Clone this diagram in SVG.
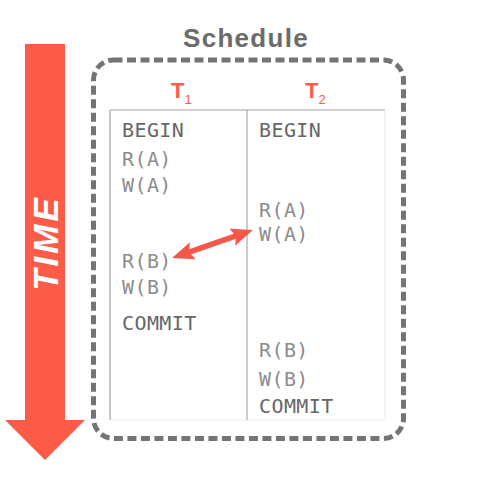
<svg xmlns="http://www.w3.org/2000/svg" width="486" height="478" viewBox="0 0 486 478">
<style>
.mono{font-family:"DejaVu Sans Mono","Liberation Mono",monospace;font-size:20px;letter-spacing:0.4px}
.kw{fill:#666666}
.op{fill:#8c8c8c}
.tx{font-family:"Liberation Sans",Arial,sans-serif;fill:#ff5a4a;font-size:22px;font-weight:bold}
.sub{font-size:13px;font-weight:normal}
.grid{stroke:#a8a8a8;stroke-width:1.2;fill:none}
</style>
<defs>
<marker id="head" viewBox="0 0 22 18" refX="7" refY="9" markerWidth="22" markerHeight="18" markerUnits="userSpaceOnUse" orient="auto-start-reverse">
<path d="M0,0 L22,9 L0,18 L4,9 z" fill="#f5574a"/>
</marker>
</defs>
<g id="time">
<polygon points="25,44 65,44 65,420 85,420 45,460 5,420 25,420" fill="#fd5a48"/>
<text transform="translate(58,243) rotate(-90)" text-anchor="middle" font-family="Liberation Sans,Arial,sans-serif" font-weight="bold" font-style="italic" font-size="35" letter-spacing="3" fill="#ffffff">TIME</text>
</g>
<g id="schedule">
<text x="246" y="47" text-anchor="middle" font-family="Liberation Sans,Arial,sans-serif" font-weight="bold" font-size="26" letter-spacing="1.3" fill="#6b6b6b">Schedule</text>
<rect x="93.5" y="60" width="310" height="378.5" rx="20" fill="none" stroke="#747474" stroke-width="5" stroke-dasharray="9 4.5"/>
</g>
<g id="table">
<rect x="110" y="110" width="275" height="310" rx="4" fill="#ffffff" stroke="#ececec" stroke-width="1.2"/>
<path class="grid" d="M110,110 H385 M110,110 V420 M247,110 V420"/>
</g>
<g id="t1">
<text class="tx" x="171" y="98">T<tspan class="sub" dy="6">1</tspan></text>
<text class="mono kw" x="122" y="137">BEGIN</text>
<text class="mono op" x="122" y="166">R(A)</text>
<text class="mono op" x="122" y="192">W(A)</text>
<text class="mono op" x="122" y="268">R(B)</text>
<text class="mono op" x="122" y="294">W(B)</text>
<text class="mono kw" x="122" y="330">COMMIT</text>
</g>
<g id="t2">
<text class="tx" x="305" y="98">T<tspan class="sub" dy="6">2</tspan></text>
<text class="mono kw" x="259" y="137">BEGIN</text>
<text class="mono op" x="259" y="217">R(A)</text>
<text class="mono op" x="259" y="241">W(A)</text>
<text class="mono op" x="259" y="357">R(B)</text>
<text class="mono op" x="259" y="386">W(B)</text>
<text class="mono kw" x="259" y="413">COMMIT</text>
</g>
<g id="connectors">
<line x1="186.2" y1="253.1" x2="238.8" y2="234.9" stroke="#f5574a" stroke-width="5.5" marker-start="url(#head)" marker-end="url(#head)"/>
</g>
</svg>
